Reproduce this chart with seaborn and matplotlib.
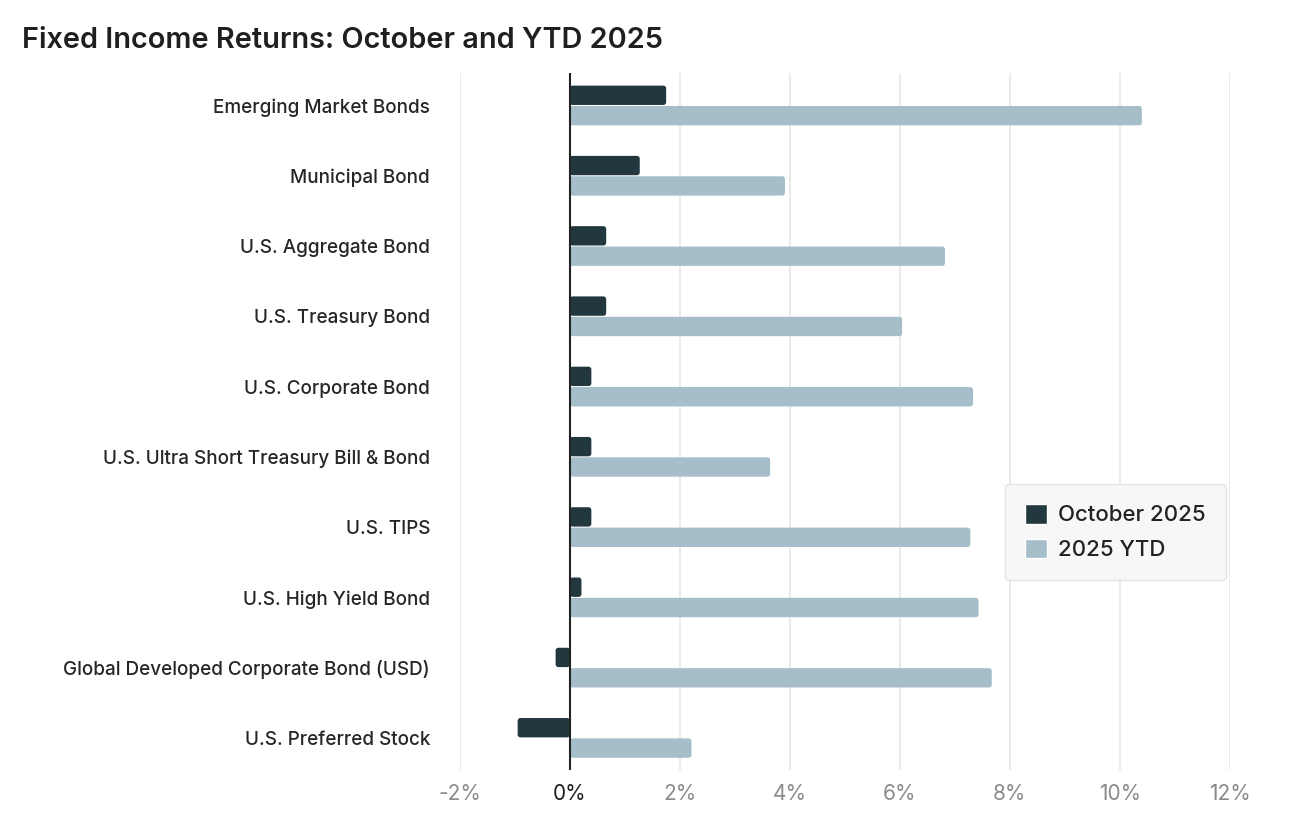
import pandas as pd
import numpy as np
import seaborn as sns
import matplotlib.pyplot as plt
from matplotlib.patches import FancyBboxPatch

# values (percent)
categories = ["Emerging Market Bonds", "Municipal Bond", "U.S. Aggregate Bond",
              "U.S. Treasury Bond", "U.S. Corporate Bond",
              "U.S. Ultra Short Treasury Bill & Bond", "U.S. TIPS",
              "U.S. High Yield Bond", "Global Developed Corporate Bond (USD)",
              "U.S. Preferred Stock"]
october = [1.75, 1.27, 0.66, 0.66, 0.39, 0.39, 0.39, 0.21, -0.26, -0.95]
ytd = [10.40, 3.91, 6.82, 6.04, 7.33, 3.64, 7.28, 7.43, 7.67, 2.21]
series = ["October 2025", "2025 YTD"]
colors = ["#22373E", "#A6BECA"]
xticks = [-2, 0, 2, 4, 6, 8, 10, 12]

df = pd.DataFrame({"Category": categories * 2,
                   "Return": october + ytd,
                   "Series": [series[0]] * len(categories) + [series[1]] * len(categories)})

sns.set_theme(style="white")
plt.rcParams['font.family'] = ['Inter', 'DejaVu Sans']

fig = plt.figure(figsize=(13.14, 8.22), dpi=100)
ax = fig.add_axes([0.350, 0.063, 0.586, 0.848])

sns.barplot(data=df, x="Return", y="Category", hue="Series", orient="h",
            palette=colors, width=0.58, gap=0.05, ax=ax, saturation=1,
            legend=True)

# rounded bar ends
for p in list(ax.patches):
    x, y = p.get_x(), p.get_y()
    w, h = p.get_width(), p.get_height()
    if w == 0 or h == 0:
        continue
    if w < 0:
        x, w = x + w, -w
    fc = p.get_facecolor()
    rb = FancyBboxPatch((x, y), w, h,
                        boxstyle="round,pad=0,rounding_size=0.05",
                        mutation_aspect=0.8, facecolor=fc, edgecolor="none",
                        zorder=3)
    p.set_visible(False)
    ax.add_patch(rb)

ax.set_xlim(-2.0, 12.0)
ax.set_ylim(len(categories) - 0.54, -0.46)
ax.set_xticks(xticks)
ax.set_xticklabels([f"{t}%" for t in xticks])
for lbl, t in zip(ax.get_xticklabels(), xticks):
    lbl.set_color("#1f1f1f" if t == 0 else "#8a8a8a")
    lbl.set_fontsize(15)
ax.tick_params(axis="x", length=0, pad=10)
ax.tick_params(axis="y", length=0, pad=21.5, labelsize=13.6, labelcolor="#262626")
for lbl in ax.get_yticklabels():
    lbl.set_fontweight("medium")
ax.set_xlabel("")
ax.set_ylabel("")
for s in ax.spines.values():
    s.set_visible(False)
for t in xticks:
    if t != 0:
        ax.axvline(t, color="#E6E6E6", lw=1.2, zorder=0)
ax.axvline(0, color="#222222", lw=1.5, zorder=4)

leg = ax.legend(loc="upper left", bbox_to_anchor=(0.693, 0.427), fontsize=16,
                frameon=True, facecolor="#F7F7F7", edgecolor="#E3E3E3",
                handlelength=1.0, handleheight=1.0, handletextpad=0.5,
                borderpad=0.9, labelspacing=0.6, fancybox=True)
leg.get_frame().set_alpha(1)
for txt in leg.get_texts():
    txt.set_color("#222222")
    txt.set_fontweight("medium")

fig.text(0.017, 0.951, "Fixed Income Returns: October and YTD 2025",
         fontsize=20.8, fontweight="semibold", color="#1f1f1f", va="center")

fig.savefig("out.png", dpi=100, facecolor="white")
